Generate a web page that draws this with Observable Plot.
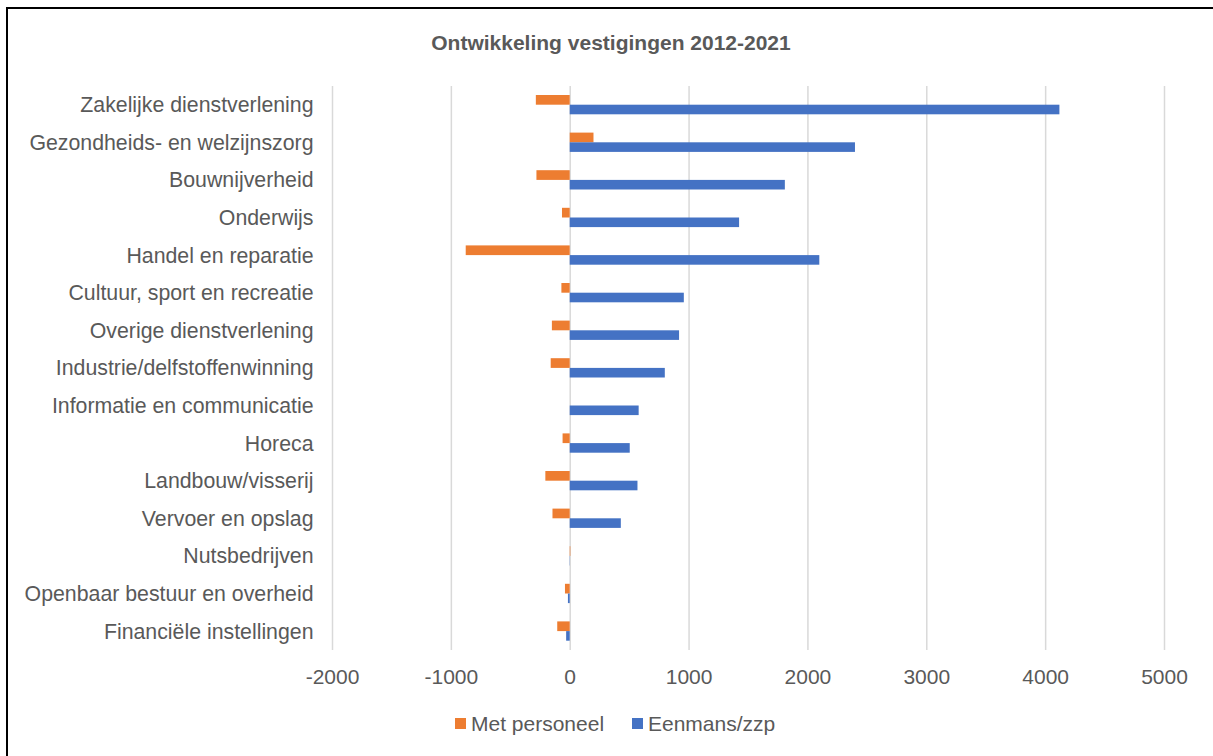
<!DOCTYPE html>
<html>
<head>
<meta charset="utf-8">
<script src="https://cdn.jsdelivr.net/npm/d3@7"></script>
<script src="https://cdn.jsdelivr.net/npm/@observablehq/plot@0.6"></script>
<style>
html, body { margin: 0; padding: 0; background: #fff; overflow: hidden; }
body { width: 1213px; height: 756px; position: relative; font-family: "Liberation Sans", Arial, sans-serif; }
#frame { position: absolute; left: 6px; top: 7px; width: 2000px; height: 2000px; border: 2px solid #000; box-sizing: border-box; pointer-events: none; }
#title { position: absolute; left: 0; top: 0; width: 1222px; height: 70px; line-height: 86px; text-align: center; font-weight: bold; font-size: 21px; color: #595959; }
#chart { position: absolute; left: 0; top: 70px; }
#legend { position: absolute; left: 0; top: 700px; width: 1213px; height: 56px; }
.item { position: absolute; top: 0; height: 48px; line-height: 48px; font-size: 21px; color: #595959; white-space: nowrap; }
.sw { display: inline-block; width: 11px; height: 11px; margin-right: 5px; vertical-align: middle; position: relative; top: -2px; }
</style>
</head>
<body>
<div id="frame"></div>
<div id="title">Ontwikkeling vestigingen 2012-2021</div>
<div id="chart"></div>
<div id="legend"></div>
<script>
const categories = [
  "Zakelijke dienstverlening",
  "Gezondheids- en welzijnszorg",
  "Bouwnijverheid",
  "Onderwijs",
  "Handel en reparatie",
  "Cultuur, sport en recreatie",
  "Overige dienstverlening",
  "Industrie/delfstoffenwinning",
  "Informatie en communicatie",
  "Horeca",
  "Landbouw/visserij",
  "Vervoer en opslag",
  "Nutsbedrijven",
  "Openbaar bestuur en overheid",
  "Financiële instellingen"
];
const seriesNames = ["Met personeel", "Eenmans/zzp"];
const seriesColors = ["#ED7D31", "#4472C4"];
const metPersoneel = [-285, 200, -280, -65, -875, -70, -150, -160, 0, -60, -205, -145, 5, -40, -105];
const eenmansZzp = [4120, 2400, 1810, 1425, 2100, 960, 920, 800, 580, 505, 570, 430, 2, -15, -30];
const xTicks = [-2000, -1000, 0, 1000, 2000, 3000, 4000, 5000];

const rowsMet = categories.map((c, i) => ({category: c, series: seriesNames[0], value: metPersoneel[i]}));
const rowsEen = categories.map((c, i) => ({category: c, series: seriesNames[1], value: eenmansZzp[i]}));

const chart = Plot.plot({
  width: 1213,
  height: 630,
  marginTop: 16,
  marginBottom: 50,
  marginLeft: 332,
  marginRight: 49,
  style: {fontFamily: "'Liberation Sans', Arial, sans-serif", fontSize: "21px", color: "#595959", background: "transparent"},
  x: {domain: [-2000, 5000]},
  y: {domain: categories, padding: 0, round: false},
  color: {domain: seriesNames, range: seriesColors},
  marks: [
    Plot.ruleX(xTicks, {stroke: "#d9d9d9", strokeWidth: 1.5}),
    Plot.barX(rowsMet, {x: "value", y: "category", fill: "series", insetTop: 9, insetBottom: 18.9}),
    Plot.barX(rowsEen, {x: "value", y: "category", fill: "series", insetTop: 18.7, insetBottom: 9.3}),
    Plot.axisX({ticks: xTicks, tickSize: 0, tickPadding: 18.5, tickFormat: d => String(d), fontSize: 21, label: null}),
    Plot.axisY({tickSize: 0, tickPadding: 19, fontSize: 21.3, label: null})
  ]
});
document.getElementById("chart").appendChild(chart);

const legend = document.getElementById("legend");
const legendX = [455, 632];
seriesNames.forEach((name, i) => {
  const item = document.createElement("div");
  item.className = "item";
  item.style.left = legendX[i] + "px";
  const sw = document.createElement("span");
  sw.className = "sw";
  sw.style.background = seriesColors[i];
  item.appendChild(sw);
  item.appendChild(document.createTextNode(name));
  legend.appendChild(item);
});
</script>
</body>
</html>
